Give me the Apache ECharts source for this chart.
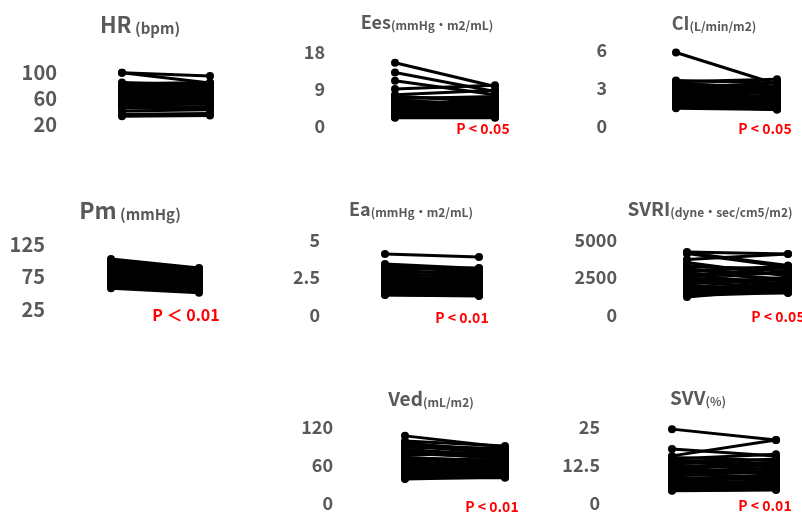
<!DOCTYPE html>
<html>
<head>
<meta charset="utf-8">
<script src="https://cdn.jsdelivr.net/npm/echarts@6/dist/echarts.min.js"></script>
<style>
  html, body { margin: 0; padding: 0; background: #ffffff; }
  #chart { width: 802px; height: 515px; }
</style>
</head>
<body>
<div id="chart"></div>
<script>
// Paired measurements per subject: before (x = 0) and after (x = 1)
const hrTicks = [20, 60, 100];
const hrPre  = [99, 99, 84, 82, 80, 78, 76, 75, 73, 72, 70, 68, 67, 65, 63, 62, 60, 58, 56, 55, 53, 50, 48, 45, 40, 35, 32];
const hrPost = [94, 83, 80, 84, 76, 79, 72, 70, 75, 68, 71, 64, 66, 62, 65, 58, 61, 55, 57, 52, 50, 53, 46, 44, 42, 36, 33];

const eesTicks = [0, 9, 18];
const eesPre  = [15.4, 13.0, 11.0, 9.0, 7.6, 7.3, 7.0, 6.6, 6.3, 6.0, 5.8, 5.5, 5.3, 5.0, 4.8, 4.5, 4.3, 4.0, 3.8, 3.5, 3.2, 3.0, 2.8, 2.5, 2.3, 2.1, 2.0];
const eesPost = [9.6, 8.4, 7.6, 9.9, 8.7, 5.8, 6.6, 7.2, 5.0, 5.5, 4.6, 6.0, 4.2, 4.8, 3.8, 5.2, 3.6, 4.0, 3.4, 4.4, 3.0, 2.8, 3.2, 2.4, 2.6, 2.1, 2.0];

const ciTicks = [0, 3, 6];
const ciPre  = [5.8, 3.6, 3.5, 3.4, 3.3, 3.2, 3.1, 3.0, 2.9, 2.8, 2.8, 2.7, 2.6, 2.5, 2.4, 2.4, 2.3, 2.2, 2.1, 2.0, 1.9, 1.8, 1.7, 1.6, 1.5, 1.5, 1.4];
const ciPost = [3.3, 3.4, 3.7, 2.9, 3.1, 2.6, 2.8, 3.4, 2.5, 2.6, 2.2, 3.1, 2.3, 2.0, 2.7, 2.1, 1.9, 2.4, 1.8, 1.6, 2.0, 1.5, 1.7, 1.3, 1.4, 1.6, 1.3];

const pmTicks = [25, 75, 125];
const pmPre  = [102, 100, 98, 96, 94, 92, 90, 89, 88, 86, 85, 84, 82, 81, 80, 78, 77, 76, 74, 72, 70, 68, 66, 64, 62, 60, 57];
const pmPost = [88, 87, 85, 86, 84, 80, 82, 78, 79, 76, 77, 74, 75, 72, 73, 70, 68, 69, 66, 65, 63, 61, 60, 58, 56, 53, 50];

const eaTicks = [0, 2.5, 5];
const eaPre  = [4.07, 3.4, 3.3, 3.2, 3.1, 3.0, 2.9, 2.8, 2.7, 2.6, 2.5, 2.5, 2.4, 2.3, 2.2, 2.1, 2.0, 1.9, 1.9, 1.8, 1.7, 1.6, 1.5, 1.45, 1.4, 1.35, 1.33];
const eaPost = [3.87, 3.1, 3.0, 2.9, 3.13, 2.7, 2.8, 2.5, 2.6, 2.3, 2.4, 2.2, 2.1, 2.2, 2.0, 1.9, 1.8, 1.75, 1.7, 1.6, 1.6, 1.5, 1.45, 1.4, 1.35, 1.3, 1.27];

const svriTicks = [0, 2500, 5000];
const svriPre  = [4200, 4150, 4100, 3700, 3500, 3300, 3200, 3100, 3000, 2900, 2800, 2700, 2600, 2500, 2400, 2300, 2200, 2100, 2000, 1900, 1800, 1700, 1600, 1500, 1400, 1300, 1200];
const svriPost = [4070, 3300, 3200, 4070, 2600, 2900, 3100, 2200, 2700, 3270, 2400, 2000, 2800, 1900, 2300, 2100, 1800, 2500, 1600, 1700, 2000, 1500, 1900, 1470, 1600, 1500, 1800];

const vedTicks = [0, 60, 120];
const vedPre  = [106, 98, 95, 92, 90, 88, 85, 82, 80, 78, 75, 72, 70, 68, 66, 64, 62, 60, 58, 55, 52, 50, 48, 45, 42, 40, 38];
const vedPost = [88, 90, 80, 85, 78, 86, 74, 76, 70, 72, 82, 66, 68, 62, 64, 58, 60, 56, 54, 52, 50, 48, 46, 44, 42, 40, 41];

const svvTicks = [0, 12.5, 25];
const svvPre  = [24.3, 17.8, 15.5, 15.0, 14.5, 14.0, 13.5, 13.0, 12.5, 12.0, 11.5, 11.0, 10.5, 10.0, 9.5, 9.0, 8.5, 8.0, 7.5, 7.0, 6.5, 6.0, 5.5, 5.0, 4.5, 4.2, 4.0];
const svvPost = [20.7, 15.5, 20.7, 14.0, 16.0, 13.0, 12.0, 14.5, 11.0, 12.5, 10.0, 13.5, 9.5, 11.5, 8.5, 10.5, 7.5, 9.0, 8.0, 6.5, 7.0, 5.5, 6.0, 5.0, 4.8, 4.5, 4.3];

const GREY = '#595959';
const RED = '#ff0000';
const FONT = '"Noto Sans CJK JP", "Noto Sans", sans-serif';

// Panel layout: plot box, title and p-value placement
const panels = [
  { name: 'HR',   unit: ' (bpm)',           ticks: hrTicks,   pre: hrPre,   post: hrPost,
    left: 122, top: 72,  width: 88,  height: 52, labelMargin: 65, labelSize: 20,
    title: [140, 23], nameSize: 22, unitSize: 15, p: null },
  { name: 'Ees',  unit: '(mmHg・m2/mL)',    ticks: eesTicks,  pre: eesPre,  post: eesPost,
    left: 395, top: 52,  width: 100, height: 74, labelMargin: 70, labelSize: 18,
    title: [427, 20], nameSize: 18, unitSize: 12, p: ['P < 0.05', 483, 129, 14] },
  { name: 'CI',   unit: '(L/min/m2)',       ticks: ciTicks,   pre: ciPre,   post: ciPost,
    left: 676, top: 50,  width: 101, height: 76, labelMargin: 69, labelSize: 18,
    title: [714, 21], nameSize: 18, unitSize: 12, p: ['P < 0.05', 765, 129, 14] },
  { name: 'Pm',   unit: ' (mmHg)',          ticks: pmTicks,   pre: pmPre,   post: pmPost,
    left: 111, top: 244, width: 88,  height: 65, labelMargin: 66, labelSize: 20,
    title: [130, 208], nameSize: 23, unitSize: 15, p: ['P ＜ 0.01', 186, 315, 16] },
  { name: 'Ea',   unit: '(mmHg・m2/mL)',    ticks: eaTicks,   pre: eaPre,   post: eaPost,
    left: 385, top: 240, width: 94,  height: 75, labelMargin: 65, labelSize: 18,
    title: [411, 207], nameSize: 18, unitSize: 12, p: ['P < 0.01', 462, 318, 14] },
  { name: 'SVRI', unit: '(dyne・sec/cm5/m2)', ticks: svriTicks, pre: svriPre, post: svriPost,
    left: 687, top: 240, width: 101, height: 75, labelMargin: 70, labelSize: 18,
    title: [710, 207], nameSize: 19, unitSize: 12, p: ['P < 0.05', 778, 317, 14] },
  { name: 'Ved',  unit: '(mL/m2)',          ticks: vedTicks,  pre: vedPre,  post: vedPost,
    left: 405, top: 427, width: 100, height: 76, labelMargin: 72, labelSize: 18,
    title: [431, 397], nameSize: 19, unitSize: 12, p: ['P < 0.01', 492, 507, 14] },
  { name: 'SVV',  unit: '(%)',              ticks: svvTicks,  pre: svvPre,  post: svvPost,
    left: 672, top: 427, width: 104, height: 76, labelMargin: 72, labelSize: 18,
    title: [698, 396], nameSize: 19, unitSize: 12, p: ['P < 0.01', 765, 506, 14] }
];

const grid = [], xAxis = [], yAxis = [], series = [], graphic = [];

panels.forEach((pn, k) => {
  grid.push({ left: pn.left, top: pn.top, width: pn.width, height: pn.height, containLabel: false });
  xAxis.push({ gridIndex: k, type: 'value', min: 0, max: 1, show: false });
  const t = pn.ticks;
  yAxis.push({
    gridIndex: k, type: 'value',
    min: t[0], max: t[t.length - 1], interval: t[1] - t[0],
    axisLine: { show: false }, axisTick: { show: false }, splitLine: { show: false },
    axisLabel: {
      margin: pn.labelMargin, color: GREY, fontFamily: FONT, fontWeight: 'bold',
      fontSize: pn.labelSize, align: 'right',
      formatter: (v) => String(v)
    }
  });
  pn.pre.forEach((v, i) => {
    series.push({
      type: 'line', xAxisIndex: k, yAxisIndex: k,
      data: [[0, v], [1, pn.post[i]]],
      symbol: 'circle', symbolSize: 8, clip: false, silent: true,
      itemStyle: { color: '#000000' },
      lineStyle: { color: '#000000', width: 3 }
    });
  });
  graphic.push({
    type: 'text', x: pn.title[0], y: pn.title[1], silent: true,
    style: {
      text: '{n|' + pn.name + '}{u|' + pn.unit + '}',
      align: 'center', verticalAlign: 'middle',
      rich: {
        n: { fontFamily: FONT, fontWeight: 'bold', fontSize: pn.nameSize, fill: GREY, verticalAlign: 'bottom', lineHeight: pn.nameSize + 4 },
        u: { fontFamily: FONT, fontWeight: 'bold', fontSize: pn.unitSize, fill: GREY, verticalAlign: 'bottom', lineHeight: pn.nameSize + 2 }
      }
    }
  });
  if (pn.p) {
    graphic.push({
      type: 'text', x: pn.p[1], y: pn.p[2], silent: true,
      style: {
        text: pn.p[0], align: 'center', verticalAlign: 'middle',
        fontFamily: FONT, fontWeight: 'bold', fontSize: pn.p[3], fill: RED
      }
    });
  }
});

const chart = echarts.init(document.getElementById('chart'), null, { renderer: 'canvas' });
chart.setOption({
  animation: false,
  backgroundColor: '#ffffff',
  grid, xAxis, yAxis, series, graphic
});
</script>
</body>
</html>
